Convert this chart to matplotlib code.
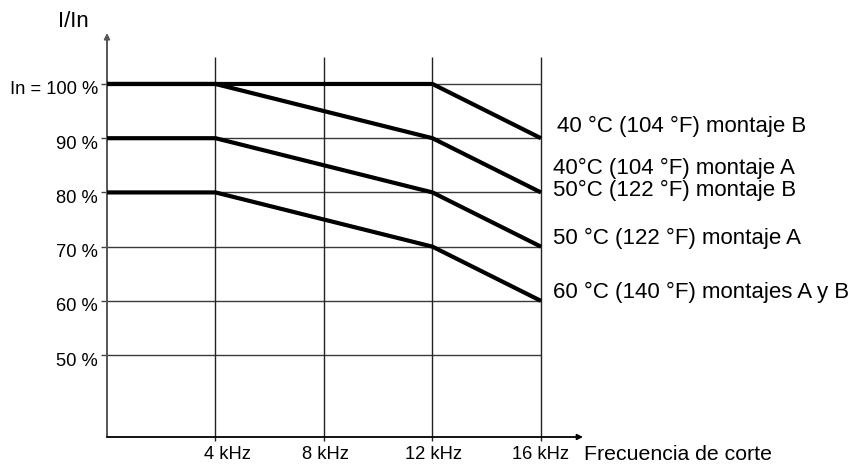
import numpy as np
import matplotlib
matplotlib.use('Agg')
import matplotlib.pyplot as plt

plt.rcParams['font.family'] = ['Liberation Sans', 'DejaVu Sans']

#%% Data
freq_khz = [0, 4, 12, 16]
curve_40B = [100, 100, 100, 90]
curve_40A_50B = [100, 100, 90, 80]
curve_50A = [90, 90, 80, 70]
curve_60AB = [80, 80, 70, 60]
curves = [curve_40B, curve_40A_50B, curve_50A, curve_60AB]

y_levels = [100, 90, 80, 70, 60, 50]
y_labels = ['In = 100 %', '90 %', '80 %', '70 %', '60 %', '50 %']
x_ticks = [4, 8, 12, 16]
x_labels = ['4 kHz', '8 kHz', '12 kHz', '16 kHz']

curve_labels = ['40 °C (104 °F) montaje B',
                '40°C (104 °F) montaje A',
                '50°C (122 °F) montaje B',
                '50 °C (122 °F) montaje A',
                '60 °C (140 °F) montajes A y B']
label_y = [92.1, 84.5, 80.3, 71.6, 61.6]
label_x = [16.6, 16.45, 16.45, 16.45, 16.45]

#%% Figure
W, H = 858, 467
fig = plt.figure(figsize=(W / 100, H / 100), dpi=100)
ax = fig.add_axes([107 / W, (H - 437) / H, (583 - 107) / W, (437 - 33) / H])
ax.set_xlim(0, 17.55)
ax.set_ylim(34.9, 109.4)
for s in ax.spines.values():
    s.set_visible(False)

# grid
ax.hlines(y_levels, 0, 16, colors='#3a3a3a', lw=1.0, zorder=1)
ax.vlines(x_ticks, 34.9, 105, colors='#222222', lw=1.0, zorder=1)

# axes with arrows
ax.annotate('', xy=(0, 1), xytext=(0, 0), xycoords='axes fraction',
            arrowprops=dict(arrowstyle='-|>', color='#555555', lw=1.4,
                            mutation_scale=8, shrinkA=0, shrinkB=0))
ax.annotate('', xy=(1, 0), xytext=(0, 0), xycoords='axes fraction',
            arrowprops=dict(arrowstyle='-|>', color='black', lw=1.3,
                            mutation_scale=8, shrinkA=0, shrinkB=0))

# ticks
ax.set_yticks(y_levels)
ax.set_yticklabels([])
ax.set_xticks(x_ticks)
ax.set_xticklabels([])
ax.tick_params(axis='y', length=4, width=1, color='#444444', direction='out')
ax.tick_params(axis='x', length=3, width=1, color='#222222', direction='out')

# curves
for c in curves:
    ax.plot(freq_khz, c, color='black', lw=3.0, solid_capstyle='butt', zorder=3)

# y labels
for y, lab in zip(y_levels, y_labels):
    ax.text(-0.33, y - 1.1, lab, ha='right', va='center', fontsize=13.2, clip_on=False)

# x labels
x_off = [0.45, 0.07, 0.03, 0.0]
for x, lab, off in zip(x_ticks, x_labels, x_off):
    ax.text(x + off, 33.2, lab, ha='center', va='top', fontsize=13.2, clip_on=False)

# curve labels
for x, y, lab in zip(label_x, label_y, curve_labels):
    ax.text(x, y, lab, ha='left', va='center', fontsize=16, clip_on=False)

ax.text(17.6, 33.5, 'Frecuencia de corte', ha='left', va='top', fontsize=15.3, clip_on=False)
ax.text(-1.25, 111.6, 'I/In', ha='center', va='center', fontsize=16, clip_on=False)

fig.savefig('out.png', dpi=100)
